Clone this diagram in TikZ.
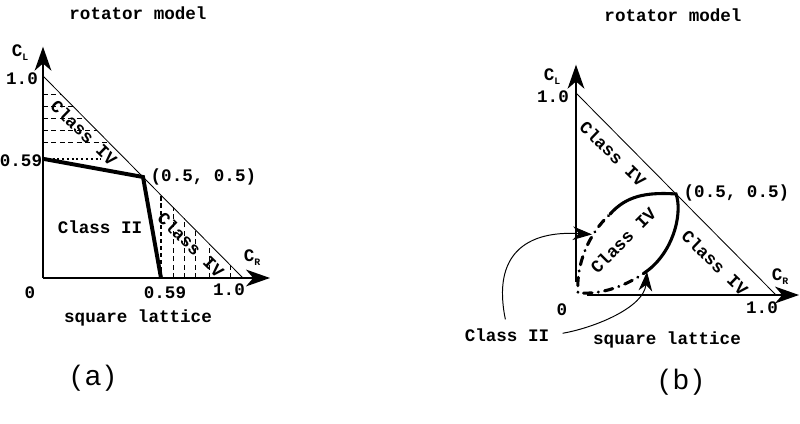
\documentclass[tikz,border=0pt]{standalone}
\usepackage{fontspec}
\setmainfont{Liberation Serif}
\setmonofont{Liberation Mono}
\setsansfont{Liberation Sans}
\usetikzlibrary{arrows.meta}

\begin{document}
\begin{tikzpicture}[
  axis/.style={line width=1.1pt, -{Stealth[length=6mm, width=4.2mm, inset=1.8mm]}},
  edge/.style={line width=0.6pt},
  hatch/.style={line width=0.6pt, dash pattern=on 3.5pt off 2.5pt},
  phase/.style={line width=2.8pt},
  loopline/.style={line width=2.2pt, line cap=round},
  pointer/.style={line width=0.7pt, -{Stealth[length=4.8mm, width=3.4mm, inset=1.5mm]}},
  lbl/.style={font=\ttfamily\bfseries\fontsize{12.5}{15}\selectfont, inner sep=1pt},
  title/.style={font=\ttfamily\bfseries\fontsize{12.5}{15}\selectfont, inner sep=1pt},
  tag/.style={font=\sffamily\fontsize{20}{24}\selectfont, inner sep=1pt}
]
\useasboundingbox (0,0) rectangle (20,10.6);

% ================= PANEL (a) =================
\begin{scope}[shift={(1.075,3.65)}, x=5cm, y=5.05cm]

\coordinate (aO) at (0,0);
\coordinate (aXend) at (1.135,0);
\coordinate (aYend) at (0,1.145);
\coordinate (aX1) at (1,0);
\coordinate (aY1) at (0,1);

% hatching
\foreach \y in {0.91,0.85,0.79,0.73,0.67}
  \draw[hatch] (0,\y) -- ({1-\y},\y);
\foreach \x in {0.65,0.705,0.76,0.83,0.935}
  \draw[hatch] (\x,0) -- (\x,{1-\x});

% axes + edge
\draw[axis] (aO) -- (aXend);
\draw[axis] (aO) -- (aYend);
\draw[edge] (aY1) -- (aX1);

% boundaries
\coordinate (aP) at (0,0.59);
\coordinate (aM) at (0.5,0.5);
\coordinate (aQ) at (0.59,0);
\coordinate (aPd) at (0.29,0.59);
\coordinate (aQd) at (0.59,0.41);
\draw[line width=1.4pt, dotted] (aP) -- (aPd);
\draw[line width=1pt, dash pattern=on 3pt off 2pt] (aQ) -- (aQd);
\draw[phase] (aP) -- (aM) -- (aQ);

% labels
\node[title] (aTitle) at (0.475,1.31) {rotator model};
\node[lbl] (aCL) at (-0.115,1.115) {C\raisebox{-0.45ex}{\scriptsize L}};
\node[lbl] (aOneY) at (-0.105,0.985) {1.0};
\node[lbl] (aFiveNineY) at (-0.11,0.58) {0.59};
\node[lbl] (aZero) at (-0.065,-0.075) {0};
\node[lbl] (aFiveNineX) at (0.61,-0.075) {0.59};
\node[lbl] (aOneX) at (0.93,-0.06) {1.0};
\node[lbl] (aCR) at (1.045,0.1) {C\raisebox{-0.45ex}{\scriptsize R}};
\node[lbl, anchor=west] (aMid) at (0.53,0.5) {(0.5, 0.5)};
\node[lbl] (aCII) at (0.285,0.25) {Class II};
\node[lbl, rotate=-44] (aCIVup) at (0.205,0.72) {Class IV};
\node[lbl, rotate=-44] (aCIVlow) at (0.74,0.165) {Class IV};
\node[title] (aSq) at (0.475,-0.2) {square lattice};
\node[tag] (aTag) at (0.25,-0.495) {(\,a\,)};

\end{scope}

% ================= PANEL (b) =================
\begin{scope}[shift={(14.4,3.225)}, x=5cm, y=5.05cm]

\coordinate (bXstart) at (0.055,0);
\coordinate (bYstart) at (0,0.065);
\coordinate (bXend) at (1.115,0);
\coordinate (bYend) at (0,1.14);
\coordinate (bX1) at (1,0);
\coordinate (bY1) at (0,1);

% axes + edge
\draw[axis] (bXstart) -- (bXend);
\draw[axis] (bYstart) -- (bYend);
\draw[edge] (bY1) -- (bX1);

% Class IV loop
\coordinate (bM) at (0.5,0.5);
\coordinate (bJa) at (0.37,0.13);
\coordinate (bJb) at (0.17,0.40);
\coordinate (bC) at (0.01,0.01);
\draw[loopline] (bJb) .. controls (0.25,0.49) and (0.35,0.51) .. (bM)
  .. controls (0.53,0.42) and (0.5,0.24) .. (bJa);
\draw[loopline, dash pattern=on 6pt off 4.5pt on 0.1pt off 4.5pt]
  (bJa) .. controls (0.28,0.06) and (0.15,0.0) .. (bC)
  .. controls (0.0,0.15) and (0.06,0.3) .. (bJb);

% labels
\node[title] (bTitle) at (0.485,1.385) {rotator model};
\node[lbl] (bCL) at (-0.12,1.08) {C\raisebox{-0.45ex}{\scriptsize L}};
\node[lbl] (bOneY) at (-0.115,0.98) {1.0};
\node[lbl] (bZero) at (-0.07,-0.075) {0};
\node[lbl] (bOneX) at (0.93,-0.065) {1.0};
\node[lbl] (bCR) at (1.02,0.09) {C\raisebox{-0.45ex}{\scriptsize R}};
\node[lbl, anchor=west] (bMid) at (0.53,0.505) {(0.5, 0.5)};
\node[lbl, rotate=-44] (bCIVup) at (0.185,0.7) {Class IV};
\node[lbl, rotate=45] (bCIVin) at (0.235,0.27) {Class IV};
\node[lbl, rotate=-44] (bCIVlow) at (0.695,0.16) {Class IV};
\node[lbl] (bCII) at (-0.345,-0.2) {Class II};
\node[title] (bSq) at (0.455,-0.225) {square lattice};
\node[tag] (bTag) at (0.525,-0.43) {(\,b\,)};

% pointers from Class II
\coordinate (bT1) at (0.08,0.3);
\coordinate (bT2) at (0.355,0.115);
\draw[pointer, shorten <=2mm] (bCII.north) .. controls (-0.42,0.2) and (-0.25,0.32) .. (bT1);
\draw[pointer, shorten <=3mm] (bCII.east) .. controls (0.1,-0.16) and (0.34,-0.06) .. (bT2);

\end{scope}

\end{tikzpicture}
\end{document}
